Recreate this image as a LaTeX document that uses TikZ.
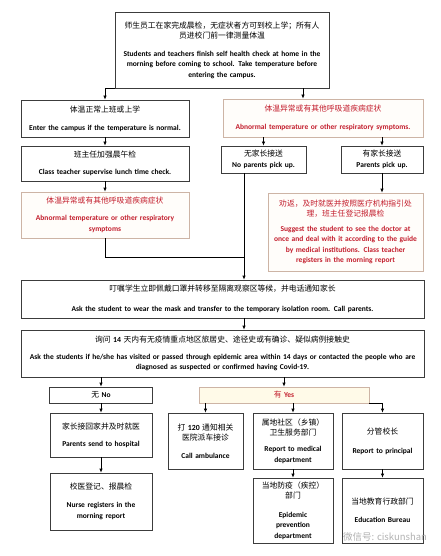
\documentclass[tikz,border=0pt]{standalone}
\usepackage{fontspec}
\setmainfont{Carlito}
\newfontfamily\zhfont{Noto Sans CJK SC}
\usepackage{tikz}
\usetikzlibrary{arrows.meta, positioning}
\usepackage{xcolor}

\definecolor{linegray}{RGB}{60,60,60}
\definecolor{tanline}{RGB}{205,180,165}
\definecolor{redtext}{RGB}{195,30,45}
\definecolor{palered}{RGB}{255,253,250}
\definecolor{cream}{RGB}{255,250,232}

\newcommand{\zhin}[1]{{\zhfont\mdseries\fontsize{7.8}{10}\selectfont #1}}
\newcommand{\zhtxt}[2][7.5pt]{{\zhfont\mdseries\fontsize{7.8}{10}\selectfont #2\par}\vspace{#1}}

\begin{document}
\begin{tikzpicture}[x=1pt, y=-1pt, line width=0.7pt, >={Latex[length=4pt,width=3.5pt]},
  box/.style={draw=linegray, fill=white, inner sep=2pt, align=center, font=\fontsize{7.5}{10.5}\selectfont\bfseries},
  redbox/.style={box, draw=tanline, fill=palered, text=redtext}]

  \fill[white] (0,0) rectangle (440,556);
  \useasboundingbox (0,0) rectangle (440,556);

  \node[box, text width=210pt, minimum height=76pt] (check) at (222,50) {\zhtxt{师生员工在家完成晨检，无症状者方可到校上学；所有人\\员进校门前一律测量体温}Students and teachers finish self health check at home in the\\morning before coming to school. Take temperature before\\entering the campus.};

  \node[box, text width=164pt, minimum height=37pt] (normal) at (105,118.5) {\zhtxt{体温正常上班或上学}Enter the campus if the temperature is normal.};

  \node[box, text width=164pt, minimum height=35pt] (lunch) at (105,163.5) {\zhtxt[6.5pt]{班主任加强晨午检}Class teacher supervise lunch time check.};

  \node[redbox, text width=164pt, minimum height=46pt] (absym) at (105,215) {\zhtxt[6.5pt]{体温异常或有其他呼吸道疾病症状}Abnormal temperature or other respiratory\\symptoms};

  \node[redbox, text width=196pt, minimum height=38pt] (abnorm) at (323,118) {\zhtxt{体温异常或有其他呼吸道疾病症状}Abnormal temperature or other respiratory symptoms.};

  \node[box, text width=81pt, minimum height=27pt] (nopar) at (263.5,159.5) {\zhtxt[0pt]{无家长接送}No parents pick up.};

  \node[box, text width=78pt, minimum height=27pt] (par) at (382,159.5) {\zhtxt[0pt]{有家长接送}Parents pick up.};

  \node[redbox, text width=151pt, minimum height=78pt] (suggest) at (345.5,232) {\zhtxt[4.5pt]{劝返，及时就医并按照医疗机构指引处\\理，班主任登记报晨检}Suggest the student to see the doctor at\\once and deal with it according to the guide\\by medical institutions. Class teacher\\registers in the morning report};

  \node[box, text width=399pt, minimum height=38pt] (isol) at (222.5,299) {\zhtxt[9.5pt]{叮嘱学生立即佩戴口罩并转移至隔离观察区等候，并电话通知家长}Ask the student to wear the mask and transfer to the temporary isolation room. Call parents.};

  \node[box, text width=399pt, minimum height=47pt] (ask) at (222.5,353.5) {\zhtxt[6.5pt]{询问 {\rmfamily\bfseries 14} 天内有无疫情重点地区旅居史、途径史或有确诊、疑似病例接触史}Ask the students if he/she has visited or passed through epidemic area within 14 days or contacted the people who are\\diagnosed as suspected or confirmed having Covid-19.};

  \node[box, text width=99pt, minimum height=16pt] (no) at (101,395) {\zhin{无} No};

  \node[redbox, fill=cream, text width=166pt, minimum height=16pt] (yes) at (284,395) {\zhin{有} Yes};

  \node[box, text width=98pt, minimum height=44pt] (send) at (101,435) {\zhtxt[6.5pt]{家长接回家并及时就医}Parents send to hospital};

  \node[box, text width=98pt, minimum height=57pt] (nurse) at (101,501.5) {\zhtxt{校医登记、报晨检}Nurse registers in the\\morning report};

  \node[box, text width=71pt, minimum height=56pt] (amb) at (205.5,441) {\zhtxt{打 {\rmfamily\bfseries 120} 通知相关\\医院派车接诊}Call ambulance};

  \node[box, text width=76pt, minimum height=56pt] (med) at (293,441) {\zhtxt[5.5pt]{属地社区（乡镇）\\卫生服务部门}Report to medical\\department};

  \node[box, text width=76pt, minimum height=65pt] (epi) at (293,510.5) {\zhtxt[8.5pt]{当地防疫（疾控）\\部门}Epidemic\\prevention\\department};

  \node[box, text width=77pt, minimum height=56pt] (prin) at (382.5,441) {\zhtxt[8.5pt]{分管校长}Report to principal};

  \node[box, text width=77pt, minimum height=65pt] (edu) at (382.5,510.5) {\zhtxt[7.5pt]{当地教育行政部门}Education Bureau};

  \coordinate (join) at (244,257);

  \draw[->] (check.south west) -| (normal.north);
  \draw[->] ([xshift=-20pt]abnorm.north |- check.south) -- ([xshift=-20pt]abnorm.north);
  \draw[->] (normal) -- (lunch);
  \draw[->] (lunch) -- (absym);
  \draw[->] (abnorm.south -| nopar.north) -- (nopar);
  \draw[->] (abnorm.south -| par.north) -- (par);
  \draw[->] (par) -- (par |- suggest.north);
  \draw (absym) |- (join);
  \draw[->] (nopar.south -| join) -- (isol.north -| join);
  \draw[->] (isol.south -| join) -- (ask.north -| join);
  \draw[->] (ask.south -| no.north) -- (no);
  \draw[->] (ask.south -| yes.north) -- (yes);
  \draw[->] (no) -- (send);
  \draw[->] (send) -- (nurse);
  \draw[->] (yes.south -| amb.north) -- (amb);
  \draw[->] (yes.south -| med.north) -- (med);
  \draw[->] (yes.south east) -| (prin.north);
  \draw[->] (med) -- (epi);
  \draw[->] (prin) -- (edu);

  \node[text=black!30, font=\zhfont\fontsize{9.5}{10}\selectfont] (mark) at (385,537) {微信号: ciskunshan};
\end{tikzpicture}
\end{document}
